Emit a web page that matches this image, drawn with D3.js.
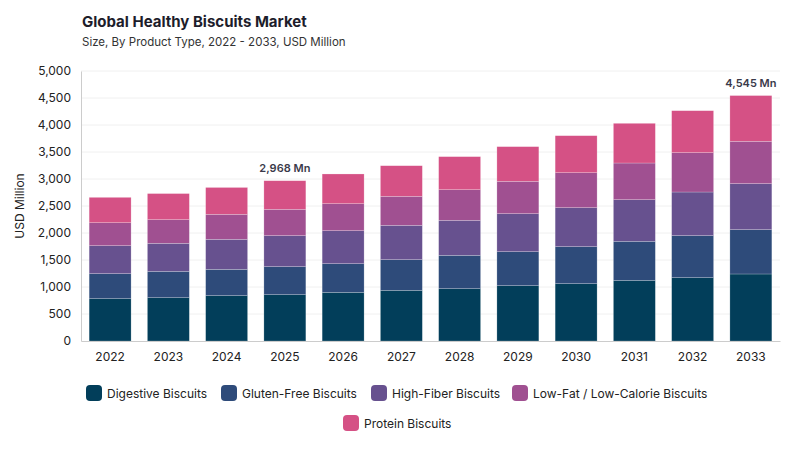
<!DOCTYPE html>
<html><head><meta charset="utf-8">
<script src="https://cdn.jsdelivr.net/npm/d3@7"></script>
<style>body{margin:0;background:#fff;font-family:Inter,"Noto Sans",sans-serif}</style>
</head><body><svg id="c" width="800" height="450"></svg>
<script>
const years=["2022","2023","2024","2025","2026","2027","2028","2029","2030","2031","2032","2033"];
const digestive=[784,802,840,858,901,938,969,1025,1062,1123,1173,1241];
const glutenFree=[463,488,487,519,531,568,617,629,685,723,778,821];
const highFiber=[518,519,556,574,611,636,649,704,722,771,808,852];
const lowFat=[426,438,463,487,500,537,567,599,648,679,729,784];
const protein=[469,483,497,530,550,567,612,642,685,735,777,847];
const seriesNames=["Digestive Biscuits","Gluten-Free Biscuits","High-Fiber Biscuits","Low-Fat / Low-Calorie Biscuits","Protein Biscuits"];
const colors=["#023e5a","#2e4b7a","#67518f","#a05091","#d55185"];
const yTicks=[0,500,1000,1500,2000,2500,3000,3500,4000,4500,5000];
const labels={"2025":"2,968 Mn","2033":"4,545 Mn"};

const svg=d3.select("#c");
const m={l:81,r:780,t:71,b:341};
const x=d3.scaleBand().domain(years).range([m.l,m.r]).paddingInner(0.28).paddingOuter(0.14);
const y=d3.scaleLinear().domain([0,5000]).range([m.b,m.t]);
svg.append("text").attr("x",82).attr("y",27).attr("font-size",15).attr("font-weight",700).attr("fill","#1d1d2b").text("Global Healthy Biscuits Market");
svg.append("text").attr("x",82).attr("y",46).attr("font-size",11.5).attr("fill","#333").text("Size, By Product Type, 2022 - 2033, USD Million");
svg.append("g").selectAll("line").data(yTicks.slice(1)).join("line").attr("x1",m.l).attr("x2",m.r).attr("y1",d=>y(d)).attr("y2",d=>y(d)).attr("stroke","#f0f0f0");
const ya=svg.append("g").attr("transform",`translate(${m.l},0)`).call(d3.axisLeft(y).tickValues(yTicks).tickFormat(d3.format(",")).tickSize(0).tickPadding(10));
ya.select(".domain").attr("stroke","#ccc");
ya.selectAll("text").attr("font-size",12).attr("fill","#222").attr("font-family","Inter,sans-serif");
svg.append("text").attr("transform","translate(24,206) rotate(-90)").attr("text-anchor","middle").attr("font-size",12).attr("fill","#222").text("USD Million");
const data=years.map((yr,i)=>({year:yr,s0:digestive[i],s1:glutenFree[i],s2:highFiber[i],s3:lowFat[i],s4:protein[i]}));
const stack=d3.stack().keys(["s0","s1","s2","s3","s4"])(data);
svg.append("g").selectAll("g").data(stack).join("g").attr("fill",(d,i)=>colors[i])
 .selectAll("rect").data(d=>d).join("rect")
 .attr("x",d=>x(d.data.year)).attr("width",x.bandwidth())
 .attr("y",d=>y(d[1])).attr("height",d=>y(d[0])-y(d[1])).attr("stroke","#fff").attr("stroke-opacity",0.35).attr("stroke-width",0.6);
const xa=svg.append("g").attr("transform",`translate(0,${m.b})`).call(d3.axisBottom(x).tickSize(0).tickPadding(11));
xa.select(".domain").attr("stroke","#ccc");
xa.selectAll("text").attr("font-size",12).attr("fill","#222").attr("font-family","Inter,sans-serif");
const last=stack[4];
years.forEach((yr,i)=>{ if(labels[yr]) svg.append("text").attr("x",x(yr)+x.bandwidth()/2).attr("y",y(last[i][1])-9).attr("text-anchor","middle").attr("font-size",11).attr("font-weight",600).attr("fill","#3a3a4a").text(labels[yr]);});
const lp=[[86,393],[221,393],[371,393],[512,393],[343,423]];
seriesNames.forEach((n,i)=>{const g=svg.append("g").attr("transform",`translate(${lp[i][0]},${lp[i][1]})`);
 g.append("rect").attr("x",0).attr("y",-8).attr("width",16).attr("height",16).attr("rx",4).attr("fill",colors[i]);
 g.append("text").attr("x",21).attr("y",4.5).attr("font-size",12).attr("fill","#222").text(n);});
</script></body></html>
